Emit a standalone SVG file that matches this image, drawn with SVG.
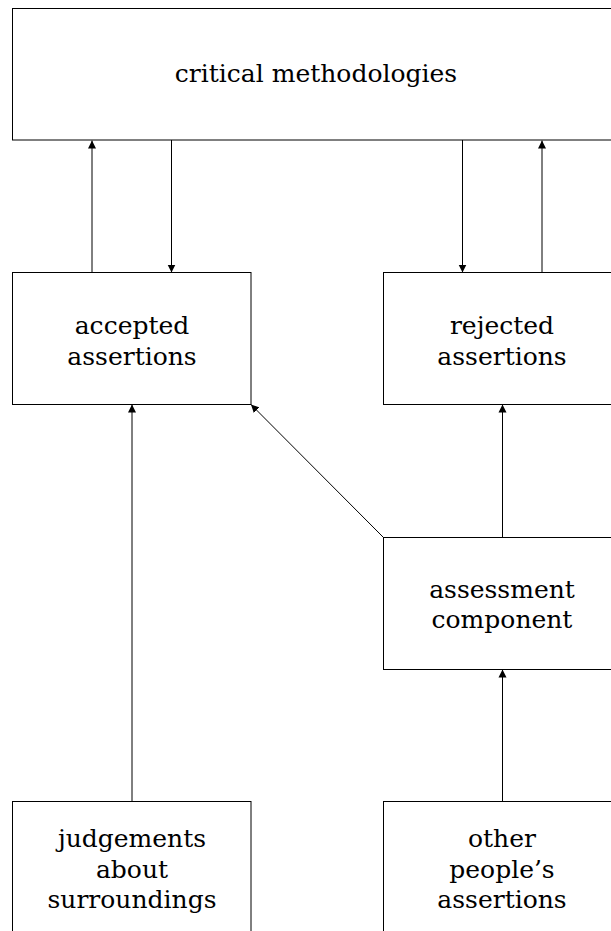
<svg xmlns="http://www.w3.org/2000/svg" width="611" height="931" viewBox="0 0 611 931">
<style>
  .box { fill: #ffffff; stroke: #000000; stroke-width: 1; }
  .lbl { font-family: 'DejaVu Serif', 'Liberation Serif', serif; font-size: 25px; fill: #000000; text-anchor: middle; }
  .edge { stroke: #000000; stroke-width: 1; fill: none; marker-end: url(#arrow); }
</style>
<defs>
  <marker id="arrow" viewBox="0 0 10 10" refX="10" refY="5" markerWidth="8" markerHeight="9" markerUnits="userSpaceOnUse" orient="auto">
    <path d="M0,0 L10,5 L0,10 Z" fill="#000000"/>
  </marker>
</defs>
<rect width="611" height="931" fill="#ffffff"/>
<g id="critical">
  <rect class="box" x="12.5" y="8.5" width="607" height="131.5"/>
  <text class="lbl" x="316" y="82">critical methodologies</text>
</g>
<g id="accepted">
  <rect class="box" x="12.5" y="272.5" width="238.5" height="132"/>
  <text class="lbl" x="132" y="334">accepted</text>
  <text class="lbl" x="132" y="365">assertions</text>
</g>
<g id="rejected">
  <rect class="box" x="383.5" y="272.5" width="237" height="132"/>
  <text class="lbl" x="502" y="334">rejected</text>
  <text class="lbl" x="502" y="365">assertions</text>
</g>
<g id="assessment">
  <rect class="box" x="383.5" y="537.5" width="237" height="132"/>
  <text class="lbl" x="502" y="598">assessment</text>
  <text class="lbl" x="502" y="628">component</text>
</g>
<g id="judgements">
  <rect class="box" x="12.5" y="801.5" width="238.5" height="140"/>
  <text class="lbl" x="132" y="847">judgements</text>
  <text class="lbl" x="132" y="878">about</text>
  <text class="lbl" x="132" y="908">surroundings</text>
</g>
<g id="others">
  <rect class="box" x="383.5" y="801.5" width="237" height="140"/>
  <text class="lbl" x="502" y="847">other</text>
  <text class="lbl" x="502" y="878">people’s</text>
  <text class="lbl" x="502" y="908">assertions</text>
</g>
<g id="connectors">
  <line class="edge" x1="92" y1="272.5" x2="92" y2="140.5"/>
  <line class="edge" x1="171.5" y1="140" x2="171.5" y2="272.5"/>
  <line class="edge" x1="462.5" y1="140" x2="462.5" y2="272.5"/>
  <line class="edge" x1="542" y1="272.5" x2="542" y2="140.5"/>
  <line class="edge" x1="383.5" y1="537.5" x2="251" y2="404.5"/>
  <line class="edge" x1="502.5" y1="537.5" x2="502.5" y2="404.5"/>
  <line class="edge" x1="132" y1="801.5" x2="132" y2="404.5"/>
  <line class="edge" x1="502.5" y1="801.5" x2="502.5" y2="669.5"/>
</g>
</svg>
